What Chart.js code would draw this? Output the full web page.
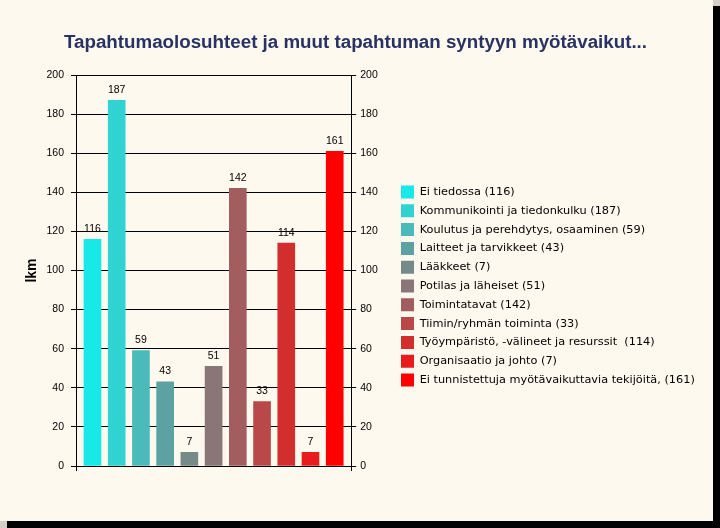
<!DOCTYPE html>
<html>
<head>
<meta charset="utf-8">
<script src="https://cdn.jsdelivr.net/npm/chart.js@4.4.1/dist/chart.umd.min.js"></script>
<style>
  html, body { margin: 0; padding: 0; background: #D4D0C8; }
  canvas { display: block; }
</style>
</head>
<body>
<canvas id="myChart" width="720" height="528"></canvas>
<script>
// data
const categories = [
  'Ei tiedossa',
  'Kommunikointi ja tiedonkulku',
  'Koulutus ja perehdytys, osaaminen',
  'Laitteet ja tarvikkeet',
  'Lääkkeet',
  'Potilas ja läheiset',
  'Toimintatavat',
  'Tiimin/ryhmän toiminta',
  'Työympäristö, -välineet ja resurssit ',
  'Organisaatio ja johto',
  'Ei tunnistettuja myötävaikuttavia tekijöitä,'
];
const counts = [116, 187, 59, 43, 7, 51, 142, 33, 114, 7, 161];
const barColors = [
  '#18E8E8', '#30D2D2', '#4ABABA', '#5CA2A2', '#768A8A', '#8A7676',
  '#A25E5E', '#BA4848', '#D22E2E', '#E81C1C', '#FF0000'
];
const yTicks = [0, 20, 40, 60, 80, 100, 120, 140, 160, 180, 200];

const fontFamily = '"Liberation Sans", Arial, sans-serif';
const legendFamily = '"DejaVu Sans", Verdana, sans-serif';
const legendTexts = categories.map((c, i) => c + ' (' + counts[i] + ')');

// work out the legend width so the legend sits where the original has it
const LEG_PAD = 5.8;
const LEG_FONT = 11.3;
const m = document.createElement('canvas').getContext('2d');
m.font = 'normal ' + LEG_FONT + 'px ' + legendFamily;
const textW = Math.max(...legendTexts.map(t => m.measureText(t).width));
const legendW = LEG_PAD + 13 + LEG_FONT / 2 + textW + 10;
const padR = Math.max(720 - (401 - LEG_PAD) - legendW, 0);
const padL = Math.min(Math.max(padR - 9, 0), 8); // roughly keeps the title centred

// cream panel with black drop shadow
const frame = {
  id: 'frame',
  beforeDraw(chart) {
    const {ctx, width, height} = chart;
    ctx.save();
    ctx.fillStyle = '#D4D0C8';
    ctx.fillRect(0, 0, width, height);
    ctx.fillStyle = '#000';
    ctx.fillRect(7, 6, width - 7, height - 6);
    ctx.fillStyle = '#FDF9EE';
    ctx.fillRect(0, 0, width - 7, height - 7);
    ctx.restore();
  }
};

// numbers above the bars
const valueLabels = {
  id: 'valueLabels',
  afterDatasetsDraw(chart) {
    const ctx = chart.ctx;
    const meta = chart.getDatasetMeta(0);
    ctx.save();
    ctx.font = '10.5px ' + fontFamily;
    ctx.fillStyle = '#000';
    ctx.textAlign = 'center';
    ctx.textBaseline = 'alphabetic';
    meta.data.forEach((bar, i) => {
      ctx.fillText(counts[i], bar.x, bar.y - 7.5);
    });
    ctx.restore();
  }
};

const tickFont = { family: fontFamily, size: 10.5 };

const config = {
  type: 'bar',
  data: {
    datasets: [{
      data: counts.map((v, i) => ({ x: i, y: v })),
      backgroundColor: barColors,
      borderWidth: 0,
      barThickness: 17,
      yAxisID: 'y'
    }]
  },
  options: {
    responsive: false,
    animation: false,
    layout: { padding: { top: 0, left: padL, right: padR, bottom: 57 } },
    scales: {
      x: {
        type: 'linear',
        offset: false,
        min: -0.68,
        max: counts.length - 1 + 0.68,
        afterBuildTicks: s => { s.ticks = [{ value: s.min }, { value: s.max }]; },
        ticks: { display: false },
        grid: { offset: false, drawOnChartArea: false, tickLength: 5, color: '#000' },
        border: { color: '#000' }
      },
      y: {
        position: 'left',
        min: yTicks[0],
        max: yTicks[yTicks.length - 1],
        ticks: { stepSize: yTicks[1] - yTicks[0], color: '#000', font: tickFont, padding: 7 },
        grid: { color: '#000', tickLength: 5 },
        border: { color: '#000' },
        title: {
          display: true,
          text: 'lkm',
          color: '#000',
          font: { family: fontFamily, size: 14, weight: 'bold' },
          padding: { top: Math.max(32 - 8.4 - padL, 0), bottom: 0 }
        },
        afterFit: s => { s.width = 76 - padL; }
      },
      y1: {
        position: 'right',
        min: yTicks[0],
        max: yTicks[yTicks.length - 1],
        ticks: { stepSize: yTicks[1] - yTicks[0], color: '#000', font: tickFont, padding: 4 },
        grid: { drawOnChartArea: false, color: '#000', tickLength: 5 },
        border: { color: '#000' },
        afterFit: s => { s.width = 44; }
      }
    },
    plugins: {
      title: {
        display: true,
        text: 'Tapahtumaolosuhteet ja muut tapahtuman syntyyn myötävaikut...',
        color: '#283264',
        font: { family: fontFamily, size: 18.75, weight: 'bold' },
        padding: { top: 31.75, bottom: 20.75 }
      },
      legend: {
        position: 'right',
        fullSize: false,
        maxWidth: 400,
        title: { display: true, text: '', font: { size: 10 }, padding: { top: 19, bottom: 0 } },
        labels: {
          boxWidth: 13,
          boxHeight: 13,
          padding: LEG_PAD,
          color: '#000',
          font: { family: legendFamily, size: LEG_FONT },
          generateLabels: () => legendTexts.map((t, i) => ({
            text: t,
            fillStyle: barColors[i],
            strokeStyle: barColors[i],
            fontColor: '#000',
            lineWidth: 0,
            hidden: false,
            index: i,
            datasetIndex: 0
          }))
        }
      },
      tooltip: { enabled: false }
    }
  },
  plugins: [frame, valueLabels]
};

var ctx = document.getElementById('myChart');
var myChart = new Chart(ctx, config);
</script>
</body>
</html>
